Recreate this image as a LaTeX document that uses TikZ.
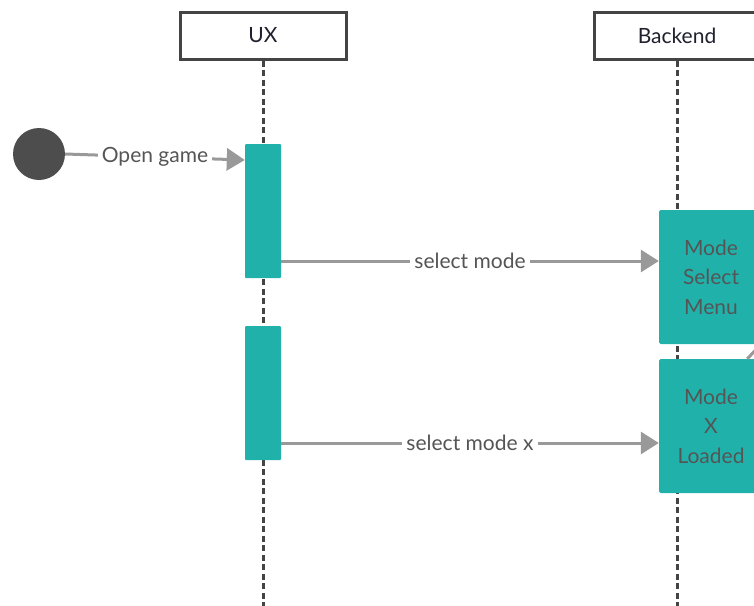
\documentclass[tikz,border=0pt]{standalone}
\usepackage{fontspec}
\setmainfont{Lato}
\usetikzlibrary{arrows.meta}
\definecolor{teal1}{HTML}{20B2AA}
\definecolor{lifeln}{HTML}{444444}
\definecolor{msgc}{HTML}{999999}
\definecolor{lblc}{HTML}{555555}
\definecolor{hdrc}{HTML}{20202E}
\definecolor{startc}{HTML}{4D4D4D}
\tikzset{
  header/.style={draw=lifeln, line width=3pt, fill=white, minimum height=47pt, text=hdrc, font=\fontsize{21}{25}\selectfont, inner sep=0pt},
  lifeline/.style={draw=lifeln, line width=3pt, dash pattern=on 6pt off 3.5pt},
  actbox/.style={fill=teal1, draw=none, minimum width=36pt, minimum height=134pt, inner sep=0pt, rounded corners=1pt},
  statebox/.style={fill=teal1, draw=none, minimum width=104pt, minimum height=134pt, inner sep=0pt, rounded corners=1.5pt, text=lblc, font=\fontsize{21}{29.5}\selectfont, align=center},
  msg/.style={draw=msgc, line width=3pt, -{Triangle[length=18pt,width=22pt]}},
  msglbl/.style={fill=white, text=lblc, font=\fontsize{21}{25}\selectfont, inner sep=4pt},
}
\begin{document}
\begin{tikzpicture}[x=1pt, y=-1pt]
\useasboundingbox (0,0) rectangle (754,605);
\clip (0,0) rectangle (754,605);
% lifelines
\coordinate (uxbot) at (263,608);
\coordinate (bebot) at (677,608);
\node[header, minimum width=166pt] (ux) at (263,35.5) {UX};
\node[header, minimum width=166pt] (be) at (677,35.5) {Backend};
\draw[lifeline] (ux.south) -- (uxbot);
\draw[lifeline] (be.south) -- (bebot);
% activation boxes
\node[actbox] (act1) at (263,211) {};
\node[actbox] (act2) at (263,393) {};
% state boxes
\node[statebox] (mxl) at (711,426) {Mode\\X\\Loaded};
\coordinate (offc) at (775,330);
\draw[draw=msgc, line width=3pt] ([xshift=-16pt]mxl.north east) -- (offc);
\node[statebox] (msm) at (711,277) {Mode\\Select\\Menu};
% start
\node[circle, fill=startc, minimum size=52pt, inner sep=0pt] (start) at (39,154) {};
\draw[msg] (start.east) -- node[msglbl, pos=0.5] {Open game} ([yshift=51pt]act1.west);
% messages
\draw[msg] ([yshift=-50pt]act1.east) -- node[msglbl] {select mode} ([yshift=16pt]msm.west);
\draw[msg] ([yshift=-50pt]act2.east) -- node[msglbl] {select mode x} ([yshift=-17pt]mxl.west);
\end{tikzpicture}
\end{document}
